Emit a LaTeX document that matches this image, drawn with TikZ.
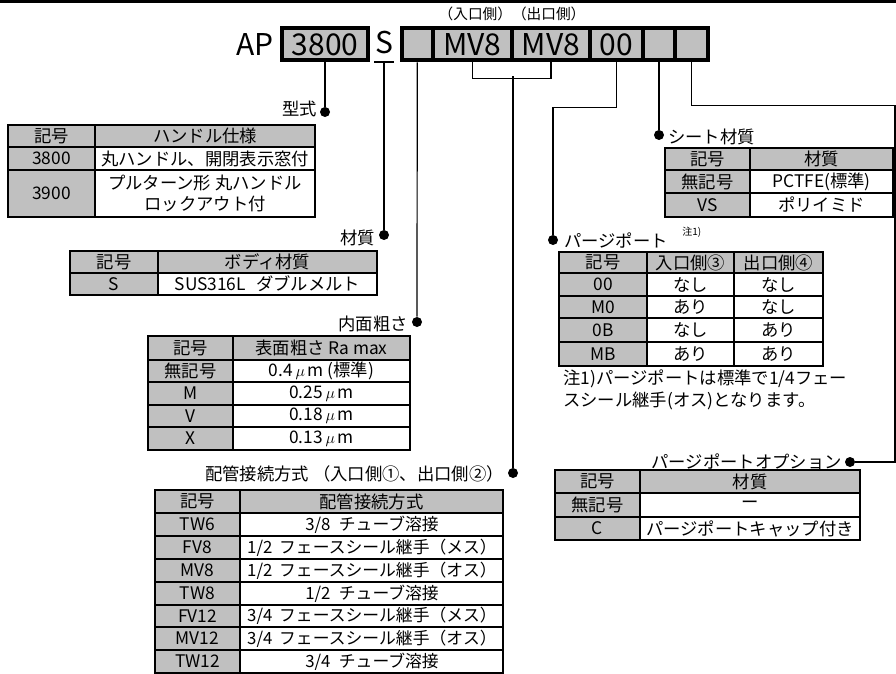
\documentclass[tikz,border=0pt]{standalone}
\usepackage{fontspec}
\setmainfont{Noto Sans CJK JP}
\usepackage{tikz}
\usetikzlibrary{shapes}
\definecolor{cellgray}{RGB}{192,192,192}

\begin{document}
\begin{tikzpicture}[x=0.75pt,y=0.75pt,yscale=-1,xscale=1,
  codebox/.style={draw, line width=3pt, fill=cellgray, inner sep=0pt, minimum height=24pt, font=\fontsize{22.5}{24}\selectfont},
  codetext/.style={inner sep=0pt, font=\fontsize{22.5}{24}\selectfont},
  leader/.style={line width=0.9pt},
  tagdot/.style={circle, fill, inner sep=0pt, minimum size=7.5pt},
  tagtext/.style={inner sep=0.75pt, font=\fontsize{13}{15}\selectfont},
  celltext/.style={inner sep=0pt, align=center, font=\fontsize{13}{16}\selectfont},
  widetext/.style={celltext, font=\fontsize{12.6}{16}\selectfont},
  keyfill/.style={fill=cellgray},
  rimline/.style={line width=2.2pt},
  gridline/.style={line width=1.5pt}]
\fill[white] (0,0) rectangle (896,674);
\useasboundingbox (0,0) rectangle (896,674);

%Straight Lines (top rule)
\draw [line width=2.3pt] (0,1.5) -- (896,1.5) ;

% Code boxes
\node [codetext] (codeAP) at (255,44.5) {AP};
\node [codebox, minimum width=64.5pt] (c3800) at (325,44.5) {3800};
\node [codetext] (codeS) at (384,43) {S};
\coordinate (sFoot) at (384,62);
\draw [leader] ([xshift=-7.5pt]sFoot) -- ([xshift=7.5pt]sFoot) ;
\node [codebox, minimum width=23.6pt] (cFinish) at (417.25,44.5) {};
\node [codebox, minimum width=59.25pt] (cInlet) at (472.5,44.5) {MV8};
\node [codebox, minimum width=58.5pt] (cOutlet) at (551,44.5) {MV8};
\node [codebox, minimum width=39.75pt] (c00) at (616.5,44.5) {00};
\node [codebox, minimum width=24pt] (cSeat) at (659,44.5) {};
\node [codebox, minimum width=24.4pt] (cOption) at (691.25,44.5) {};
% Text Node
\node [inner sep=0pt, font=\fontsize{11}{13}\selectfont] (sideNote) at (512,14) {（入口側）（出口側）};

% Dots
\node [tagdot] (dotKata) at (325,112) {};
\node [tagdot] (dotBody) at (384,235) {};
\node [tagdot] (dotRough) at (417,322) {};
\node [tagdot] (dotPipe) at (513,473) {};
\node [tagdot] (dotPurge) at (553,240) {};
\node [tagdot] (dotSeat) at (659,135) {};
\node [tagdot] (dotOption) at (850,462) {};
\coordinate (brkMid) at (513,76.5);
\coordinate (edgeTurn) at (895,105.5);

%Straight Lines
\draw [leader] (c3800.south) -- (dotKata) ;
\draw [leader] (sFoot) -- (dotBody) ;
\draw [leader] (cFinish.south) -- (dotRough) ;
\draw [leader] (cInlet.south) -- ++(0,16) -| (cOutlet.south) ;
\draw [leader] (brkMid) -- (dotPipe) ;
\draw [leader] (c00.south) -- ++(0,45) -| (dotPurge) ;
\draw [leader] (cSeat.south) -- (dotSeat) ;
\draw [leader] (cOption.south) |- (edgeTurn) |- (dotOption) ;

% Text Node
\node [tagtext, anchor=east] (lblKata) at (318,109) {型式};
\node [tagtext, anchor=east] (lblBody) at (376,238) {材質};
\node [tagtext, anchor=east] (lblRough) at (409,324) {内面粗さ};
\node [tagtext, anchor=east] (lblPipe) at (505,474) {配管接続方式 （入口側①、出口側②）};
\node [tagtext, anchor=west] (lblSeat) at (667,137) {シート材質};
\node [tagtext, anchor=west] (lblPurge) at (563,241) {パージポート};
\node [inner sep=0pt, anchor=west, font=\fontsize{7.5}{9}\selectfont] (lblPurgeNote) at (682,232) {注1)};
\node [tagtext, anchor=east] (lblOption) at (843,462) {パージポートオプション};
\node [tagtext, anchor=north west, align=left, font=\fontsize{13}{16}\selectfont] (purgeNote) at (562,369) {注1)パージポートは標準で1/4フェー\\スシール継手(オス)となります。};

% Table: type
\fill [keyfill] (8,125) rectangle (315,147) (8,147) rectangle (95,217);
\draw [gridline] (95,125) -- (95,217) (8,147) -- (315,147) (8,170) -- (315,170);
\draw [rimline] (8,125) rectangle (315,217);
\node [celltext] (kataK0) at (51.5,136) {記号};
\node [celltext] (kataV0) at (205,136) {ハンドル仕様};
\node [celltext] (kataK1) at (51.5,158.5) {3800};
\node [celltext] (kataV1) at (205,158.5) {丸ハンドル、開閉表示窓付};
\node [celltext] (kataK2) at (51.5,193.5) {3900};
\node [celltext] (kataV2) at (205,193.5) {プルターン形 丸ハンドル\\ロックアウト付};

% Table: body material
\fill [keyfill] (70,251) rectangle (377,273) (70,273) rectangle (158,295);
\draw [gridline] (158,251) -- (158,295) (70,273) -- (377,273);
\draw [rimline] (70,251) rectangle (377,295);
\node [celltext] (bodyK0) at (114,262) {記号};
\node [celltext] (bodyV0) at (267.5,262) {ボディ材質};
\node [celltext] (bodyK1) at (114,284) {S};
\node [celltext] (bodyV1) at (267.5,284) {SUS316L\hspace{0.6em}ダブルメルト};

% Table: roughness
\fill [keyfill] (148,336) rectangle (410,360) (148,360) rectangle (233,450);
\draw [gridline] (233,336) -- (233,450);
\foreach \y in {360,382,405,427} \draw [gridline] (148,\y) -- (410,\y);
\draw [rimline] (148,336) rectangle (410,450);
\node [celltext] (roughK0) at (190.5,348) {記号};
\node [celltext] (roughV0) at (321.5,348) {表面粗さ Ra max};
\node [celltext] (roughK1) at (190.5,371) {無記号};
\node [celltext] (roughV1) at (321.5,371) {0.4$\,\mu\,$m (標準)};
\node [celltext] (roughK2) at (190.5,393.5) {M};
\node [celltext] (roughV2) at (321.5,393.5) {0.25$\,\mu\,$m};
\node [celltext] (roughK3) at (190.5,416) {V};
\node [celltext] (roughV3) at (321.5,416) {0.18$\,\mu\,$m};
\node [celltext] (roughK4) at (190.5,438.5) {X};
\node [celltext] (roughV4) at (321.5,438.5) {0.13$\,\mu\,$m};

% Table: piping
\fill [keyfill] (155,490) rectangle (503,513) (155,513) rectangle (240,673);
\draw [gridline] (240,490) -- (240,673);
\foreach \y in {513,536,559,582,605,627,650} \draw [gridline] (155,\y) -- (503,\y);
\draw [rimline] (155,490) rectangle (503,673);
\node [celltext] (pipeK0) at (197.5,501.5) {記号};
\node [celltext] (pipeV0) at (371.5,501.5) {配管接続方式};
\node [celltext] (pipeK1) at (197.5,524.5) {TW6};
\node [widetext] (pipeV1) at (372,524.5) {3/8\hspace{0.5em}チューブ溶接};
\node [celltext] (pipeK2) at (197.5,547.5) {FV8};
\node [widetext] (pipeV2) at (372,547.5) {1/2\hspace{0.4em}フェースシール継手（メス）};
\node [celltext] (pipeK3) at (197.5,570.5) {MV8};
\node [widetext] (pipeV3) at (372,570.5) {1/2\hspace{0.4em}フェースシール継手（オス）};
\node [celltext] (pipeK4) at (197.5,593.5) {TW8};
\node [widetext] (pipeV4) at (372,593.5) {1/2\hspace{0.5em}チューブ溶接};
\node [celltext] (pipeK5) at (197.5,616) {FV12};
\node [widetext] (pipeV5) at (372,616) {3/4\hspace{0.4em}フェースシール継手（メス）};
\node [celltext] (pipeK6) at (197.5,638.5) {MV12};
\node [widetext] (pipeV6) at (372,638.5) {3/4\hspace{0.4em}フェースシール継手（オス）};
\node [celltext] (pipeK7) at (197.5,661.5) {TW12};
\node [widetext] (pipeV7) at (372,661.5) {3/4\hspace{0.5em}チューブ溶接};

% Table: seat
\fill [keyfill] (665,148) rectangle (893,170) (665,170) rectangle (750,217);
\draw [gridline] (750,148) -- (750,217) (665,170) -- (893,170) (665,193) -- (893,193);
\draw [rimline] (665,148) rectangle (893,217);
\node [celltext] (seatK0) at (707.5,159) {記号};
\node [celltext] (seatV0) at (821.5,159) {材質};
\node [celltext] (seatK1) at (707.5,181.5) {無記号};
\node [celltext] (seatV1) at (821.5,181.5) {PCTFE(標準)};
\node [celltext] (seatK2) at (707.5,205) {VS};
\node [celltext] (seatV2) at (821.5,205) {ポリイミド};

% Table: purge port
\fill [keyfill] (559,252) rectangle (823,273) (559,273) rectangle (647,366);
\draw [gridline] (647,252) -- (647,366) (734,252) -- (734,366);
\foreach \y in {273,296,318,342} \draw [gridline] (559,\y) -- (823,\y);
\draw [rimline] (559,252) rectangle (823,366);
\node [celltext] (purgeK0) at (603,262.5) {記号};
\node [celltext] (purgeA0) at (690.5,262.5) {入口側③};
\node [celltext] (purgeB0) at (778.5,262.5) {出口側④};
\node [celltext] (purgeK1) at (603,284.5) {00};
\node [celltext] (purgeA1) at (690.5,284.5) {なし};
\node [celltext] (purgeB1) at (778.5,284.5) {なし};
\node [celltext] (purgeK2) at (603,307) {M0};
\node [celltext] (purgeA2) at (690.5,307) {あり};
\node [celltext] (purgeB2) at (778.5,307) {なし};
\node [celltext] (purgeK3) at (603,330) {0B};
\node [celltext] (purgeA3) at (690.5,330) {なし};
\node [celltext] (purgeB3) at (778.5,330) {あり};
\node [celltext] (purgeK4) at (603,354) {MB};
\node [celltext] (purgeA4) at (690.5,354) {あり};
\node [celltext] (purgeB4) at (778.5,354) {あり};

% Table: purge port option
\fill [keyfill] (555,470) rectangle (860,493) (555,493) rectangle (640,540);
\draw [gridline] (640,470) -- (640,540) (555,493) -- (860,493) (555,517) -- (860,517);
\draw [rimline] (555,470) rectangle (860,540);
\node [celltext] (optK0) at (597.5,481.5) {記号};
\node [celltext] (optV0) at (750,481.5) {材質};
\node [celltext] (optK1) at (597.5,505) {無記号};
\node [celltext] (optV1) at (750,505) {ー};
\node [celltext] (optK2) at (597.5,528.5) {C};
\node [celltext] (optV2) at (750,528.5) {パージポートキャップ付き};

\end{tikzpicture}
\end{document}
